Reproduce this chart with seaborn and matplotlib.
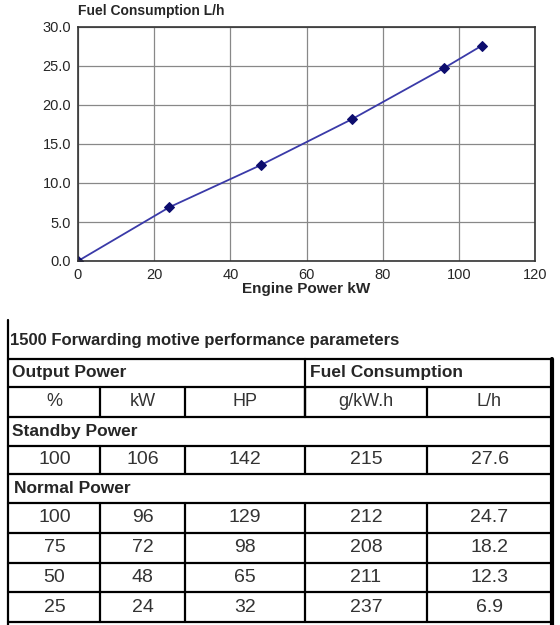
import matplotlib
matplotlib.use("Agg")
import matplotlib.pyplot as plt
import seaborn as sns
import pandas as pd

# data
power_kw = [0, 24, 48, 72, 96, 106]
fuel_lh = [0.0, 6.9, 12.3, 18.2, 24.7, 27.6]

col_headers = ["%", "kW", "HP", "g/kW.h", "L/h"]
standby_row = ["100", "106", "142", "215", "27.6"]
normal_rows = [
    ["100", "96", "129", "212", "24.7"],
    ["75", "72", "98", "208", "18.2"],
    ["50", "48", "65", "211", "12.3"],
    ["25", "24", "32", "237", "6.9"],
]

sns.set_style("white")
plt.rcParams['font.family'] = ['Liberation Sans', 'DejaVu Sans']

fig = plt.figure(figsize=(5.6, 6.25), dpi=100)

# chart
ax = fig.add_axes([78 / 560, 1 - 261 / 625, 457 / 560, 234 / 625])
df = pd.DataFrame({"kw": power_kw, "lh": fuel_lh})
sns.lineplot(data=df, x="kw", y="lh", ax=ax, color="#3a3aa8", lw=1.3,
             marker="D", markersize=5.5, markerfacecolor="#0d0d6e",
             markeredgecolor="#0d0d6e")
ax.set_xlim(0, 120)
ax.set_ylim(0, 30)
ax.set_xticks(range(0, 121, 20))
ax.set_yticks(range(0, 31, 5))
ax.set_yticklabels([f"{v:.1f}" for v in range(0, 31, 5)])
ax.grid(True, color="#888888", lw=0.9)
for s in ax.spines.values():
    s.set_color("#333333")
    s.set_linewidth(1.2)
ax.tick_params(labelsize=10.5, length=0, pad=5)
ax.set_xlabel("Engine Power kW", fontsize=11, fontweight="bold", labelpad=0)
ax.set_ylabel("")
ax.text(0.0, 1.04, "Fuel Consumption L/h", transform=ax.transAxes,
        fontsize=10, fontweight="bold", ha="left", va="bottom")

# table
tx = fig.add_axes([0, 0, 1, 1])
tx.set_xlim(0, 560)
tx.set_ylim(625, 0)
tx.axis("off")

cols = [9, 100, 185, 305, 427, 552]
centers = [(cols[i] + cols[i + 1]) / 2 for i in range(5)]
rows = [359, 387, 417, 446, 474, 503, 533, 563, 592, 622]
lw = 1.6

tx.text(10, 340, "1500 Forwarding motive performance parameters",
        fontsize=12, fontweight="bold", va="center", ha="left",
        fontstretch="condensed")
tx.plot([8, 8], [320, 625], color="black", lw=lw)
tx.plot([8, 552], [rows[0], rows[0]], color="black", lw=lw)
tx.plot([552, 552], [rows[0], 625], color="black", lw=3)
for y in rows[1:]:
    tx.plot([8, 552], [y, y], color="black", lw=lw)
tx.plot([305, 305], [rows[0], rows[2]], color="black", lw=lw)
for band in [(rows[1], rows[2]), (rows[3], rows[4]), (rows[5], rows[9])]:
    for x in cols[1:-1]:
        tx.plot([x, x], band, color="black", lw=lw)

tx.text(12, (rows[0] + rows[1]) / 2, "Output Power", fontsize=12.5,
        fontweight="bold", va="center")
tx.text(310, (rows[0] + rows[1]) / 2, "Fuel Consumption", fontsize=12.5,
        fontweight="bold", va="center")
tx.text(12, (rows[2] + rows[3]) / 2, "Standby Power", fontsize=12.5,
        fontweight="bold", va="center")
tx.text(14, (rows[4] + rows[5]) / 2, "Normal Power", fontsize=12.5,
        fontweight="bold", va="center")

for c, h in zip(centers, col_headers):
    tx.text(c, (rows[1] + rows[2]) / 2, h, fontsize=13, ha="center",
            va="center", color="#333333")
for c, v in zip(centers, standby_row):
    tx.text(c, (rows[3] + rows[4]) / 2, v, fontsize=14, ha="center",
            va="center", color="#333333")
for i, r in enumerate(normal_rows):
    yc = (rows[5 + i] + rows[6 + i]) / 2
    for c, v in zip(centers, r):
        tx.text(c, yc, v, fontsize=14, ha="center", va="center",
                color="#333333")

fig.savefig("out.png", dpi=100)
